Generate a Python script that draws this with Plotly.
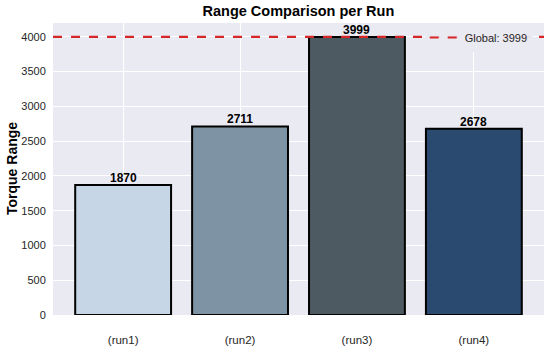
import plotly.graph_objects as go

categories = ["(run1)", "(run2)", "(run3)", "(run4)"]
values = [1870, 2711, 3999, 2678]
colors = ["#c6d6e6", "#7e94a4", "#4e5a62", "#2b4a70"]
global_value = 3999
y_ticks = [0, 500, 1000, 1500, 2000, 2500, 3000, 3500, 4000]

fig = go.Figure()
fig.add_trace(go.Bar(
    x=categories, y=values,
    marker=dict(color=colors, line=dict(color="black", width=2)),
    width=0.82,
    showlegend=False,
))
for c, v in zip(categories, values):
    fig.add_annotation(x=c, y=v, text=f"<b>{v}</b>", showarrow=False,
                       yanchor="bottom", yshift=-2,
                       font=dict(family="Liberation Sans, Arial", size=12, color="black"))

fig.add_annotation(xref="paper", yref="paper", x=-0.0835, y=0.5, xanchor="center",
                   yanchor="middle", textangle=-90, showarrow=False,
                   text="<b>Torque Range</b>", font=dict(size=14, color="black"))

fig.add_shape(type="line", xref="paper", x0=0, x1=1, yref="y",
              y0=global_value, y1=global_value,
              line=dict(color="#d62728", width=2.2, dash="dash"),
              showlegend=True, name=f"Global: {global_value}")

fig.update_layout(
    width=550, height=346,
    margin=dict(l=53, r=6, t=23, b=31),
    paper_bgcolor="white", plot_bgcolor="#eaeaf2",
    font=dict(family="Liberation Sans, Arial", size=11, color="#262626"),
    title=dict(text="<b>Range Comparison per Run</b>", x=0.5425, xanchor="center",
               y=0.967, yanchor="middle", font=dict(size=14.5, color="black"),
               automargin=False),
    bargap=0.2,
    legend=dict(x=0.977, y=1.0, xanchor="right", yanchor="top",
                bgcolor="rgba(234,234,242,0.93)", borderwidth=0,
                font=dict(size=11, color="#262626"),
                tracegroupgap=0),
    xaxis=dict(range=[-0.6, 3.6], showgrid=True, gridcolor="white", gridwidth=1,
               ticks="outside", ticklen=14, tickcolor="rgba(0,0,0,0)",
               tickfont=dict(size=11.5, color="#262626"), zeroline=False,
               type="category", automargin=False),
    yaxis=dict(range=[0, 4199], tickvals=y_ticks, showgrid=True, gridcolor="white",
               gridwidth=1, zeroline=False, ticks="outside", ticklen=4,
               tickcolor="rgba(0,0,0,0)", automargin=False,
               tickfont=dict(size=11, color="#262626")),
)

fig.write_html("out.html", config={"displayModeBar": False},
               post_script="document.body.style.margin='0';document.body.style.overflow='hidden';")
